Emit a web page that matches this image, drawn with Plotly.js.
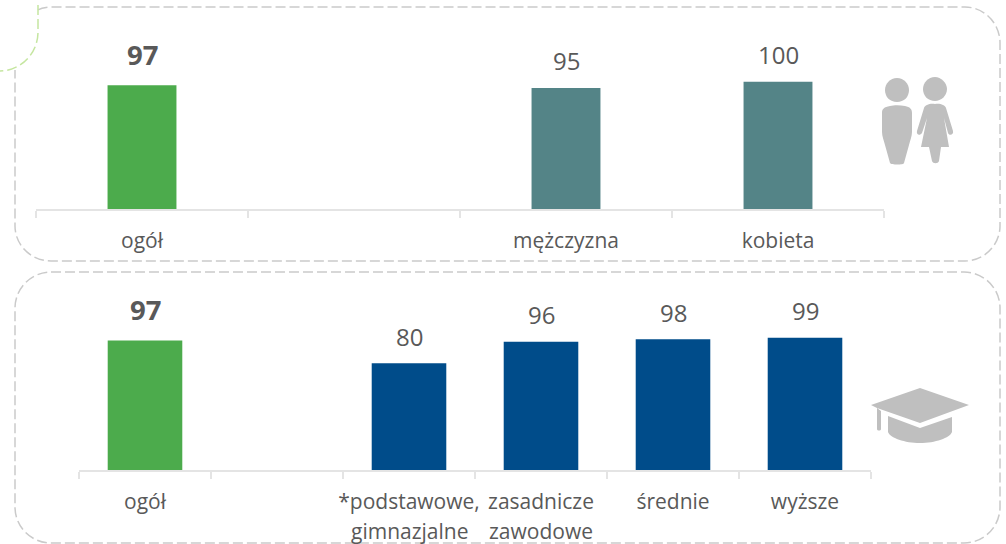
<!DOCTYPE html>
<html><head><meta charset="utf-8">
<script src="https://cdn.plot.ly/plotly-3.0.1.min.js"></script>
<style>html,body{margin:0;padding:0;background:#fff}#c{width:1006px;height:544px}</style>
</head><body><div id="c"></div>
<script>
const genderCats = ["ogół", " ", "mężczyzna", "kobieta"];
const genderVals = [97, null, 95, 100];
const eduCats = ["ogół", " ", "*podstawowe,", "zasadnicze", "średnie", "wyższe"];
const eduSecondLine = ["", "", "gimnazjalne", "zawodowe", "", ""];
const eduVals = [97, null, 80, 96, 98, 99];
const GREEN = "#4CAB4C", TEAL = "#548487", BLUE = "#004C8A", TXT = "#595959", ICON = "#BFBFBF", AX = "#E4E4E4";
const W = 1006, H = 544;
const px = x => (x / W).toFixed(5), py = y => (1 - y / H).toFixed(5);
function P(s) {
  return s.replace(/(-?[\d.]+),(-?[\d.]+)/g, (m, a, b) => px(+a) + "," + py(+b));
}
function rbox(l, t, r, b, q) {
  return P(`M${l + q},${t} L${r - q},${t} C${r - q * .45},${t} ${r},${t + q * .45} ${r},${t + q} L${r},${b - q} C${r},${b - q * .45} ${r - q * .45},${b} ${r - q},${b} L${l + q},${b} C${l + q * .45},${b} ${l},${b - q * .45} ${l},${b - q} L${l},${t + q} C${l},${t + q * .45} ${l + q * .45},${t} ${l + q},${t} Z`);
}
const dashS = "10px,4px";
const boxLine = {color:"#CACACA", width:1.5, dash:dashS};
const iconShape = d => ({type:"path", xref:"paper", yref:"paper", path:P(d), fillcolor:ICON, line:{width:0}});
const shapes = [
  {type:"path", xref:"paper", yref:"paper",
   path:P("M38,10 C41,8 46,7 51,7 L965,7 C984,7 1000,23 1000,43 L1000,226 C1000,245 984,261 965,261 L51,261 C31,261 15,245 15,226 L15,70"),
   line:boxLine},
  {type:"path", xref:"paper", yref:"paper", path:rbox(15, 272, 1000, 543, 36), line:boxLine, fillcolor:"rgba(0,0,0,0)"},
  {type:"path", xref:"paper", yref:"paper", path:P("M38,5 L38,32 C38,54 20,71 0,71"), line:{color:"#C5E6A0", width:1.5, dash:dashS}},
  iconShape("M897,78 C904,78 909,84 909,90 C909,97 904,102 897,102 C890,102 885,97 885,90 C885,84 890,78 897,78 Z"),
  iconShape("M890,106 C894,105 900,105 905,106 C910,107 912,109 912,113 L912,132 C912,136 910,141 909,145 L904,163 C904,165 891,165 890,163 L885,145 C884,141 882,136 882,132 L882,113 C882,109 884,107 890,106 Z"),
  iconShape("M935,77 C941,77 947,83 947,89 C947,96 941,101 935,101 C928,101 923,96 923,89 C923,83 928,77 935,77 Z"),
  iconShape("M935,104 C940,103 945,105 946,108 L953,131 C954,135 949,136 948,133 L944,118 L949,147 L941,147 L939,161 C938,164 933,164 932,161 L929,147 L921,147 L927,118 L922,133 C920,136 916,135 917,131 L924,108 C925,105 930,103 935,104 Z"),
  iconShape("M920,388 L969,405 L920,423 L877,408 L881,411 L881,429 C881,431 877,431 877,429 L877,408 L871,405 Z"),
  iconShape("M888,416 L920,428 L952,417 L952,432 C950,438 935,443 920,443 C905,443 890,438 888,432 Z")
];
const family = "'Open Sans', sans-serif";
const font = {family, color:TXT, size:21};
function labels(cats, vals, xa, ya) {
  return cats.map((c, i) => vals[i] == null ? null : ({
    xref:xa, yref:ya, x:c, y:vals[i], text:i === 0 ? "<b>" + vals[i] + "</b>" : String(vals[i]),
    showarrow:false, yanchor:"middle", yshift:i === 0 ? 31 : 27,
    font:{family, color:TXT, size:i === 0 ? 27.5 : 24}
  })).filter(Boolean);
}
const secondLines = eduCats.map((c, i) => eduSecondLine[i] ? ({
  xref:"x2", yref:"y2", x:c, y:0, text:eduSecondLine[i], showarrow:false, yanchor:"middle", yshift:-61, font
}) : null).filter(Boolean);
const annotations = labels(genderCats, genderVals, "x", "y").concat(labels(eduCats, eduVals, "x2", "y2"), secondLines);
const data = [
  {type:"bar", x:genderCats, y:genderVals, xaxis:"x", yaxis:"y", width:0.325, marker:{color:[GREEN, TEAL, TEAL, TEAL]}, hoverinfo:"x+y"},
  {type:"bar", x:eduCats, y:eduVals, xaxis:"x2", yaxis:"y2", width:0.565, marker:{color:[GREEN, BLUE, BLUE, BLUE, BLUE, BLUE]}, hoverinfo:"x+y"}
];
function xax(cats, l, r, a) {
  return {domain:[l / W, r / W], anchor:a, type:"category", categoryorder:"array", categoryarray:cats, tickson:"boundaries",
    ticks:"outside", ticklen:7, tickwidth:1.5, tickcolor:AX, linecolor:AX, linewidth:1.5, showline:true, showgrid:false, zeroline:false,
    tickfont:font, ticklabelstandoff:12, tickangle:0, fixedrange:true};
}
function yax(top, bottom, a) {
  return {domain:[1 - bottom / H, 1 - top / H], anchor:a, range:[0, 100], visible:false, showgrid:false, zeroline:false, fixedrange:true};
}
const layout = {
  width:W, height:H, margin:{l:0, r:0, t:0, b:0}, paper_bgcolor:"#fff", plot_bgcolor:"rgba(0,0,0,0)", showlegend:false,
  xaxis:xax(genderCats, 36, 884, "y"), yaxis:yax(81.5, 209, "x"),
  xaxis2:xax(eduCats, 79, 871, "y2"), yaxis2:yax(336.5, 470, "x2"),
  shapes, annotations
};
Plotly.newPlot("c", data, layout, {displayModeBar:false});
</script></body></html>
